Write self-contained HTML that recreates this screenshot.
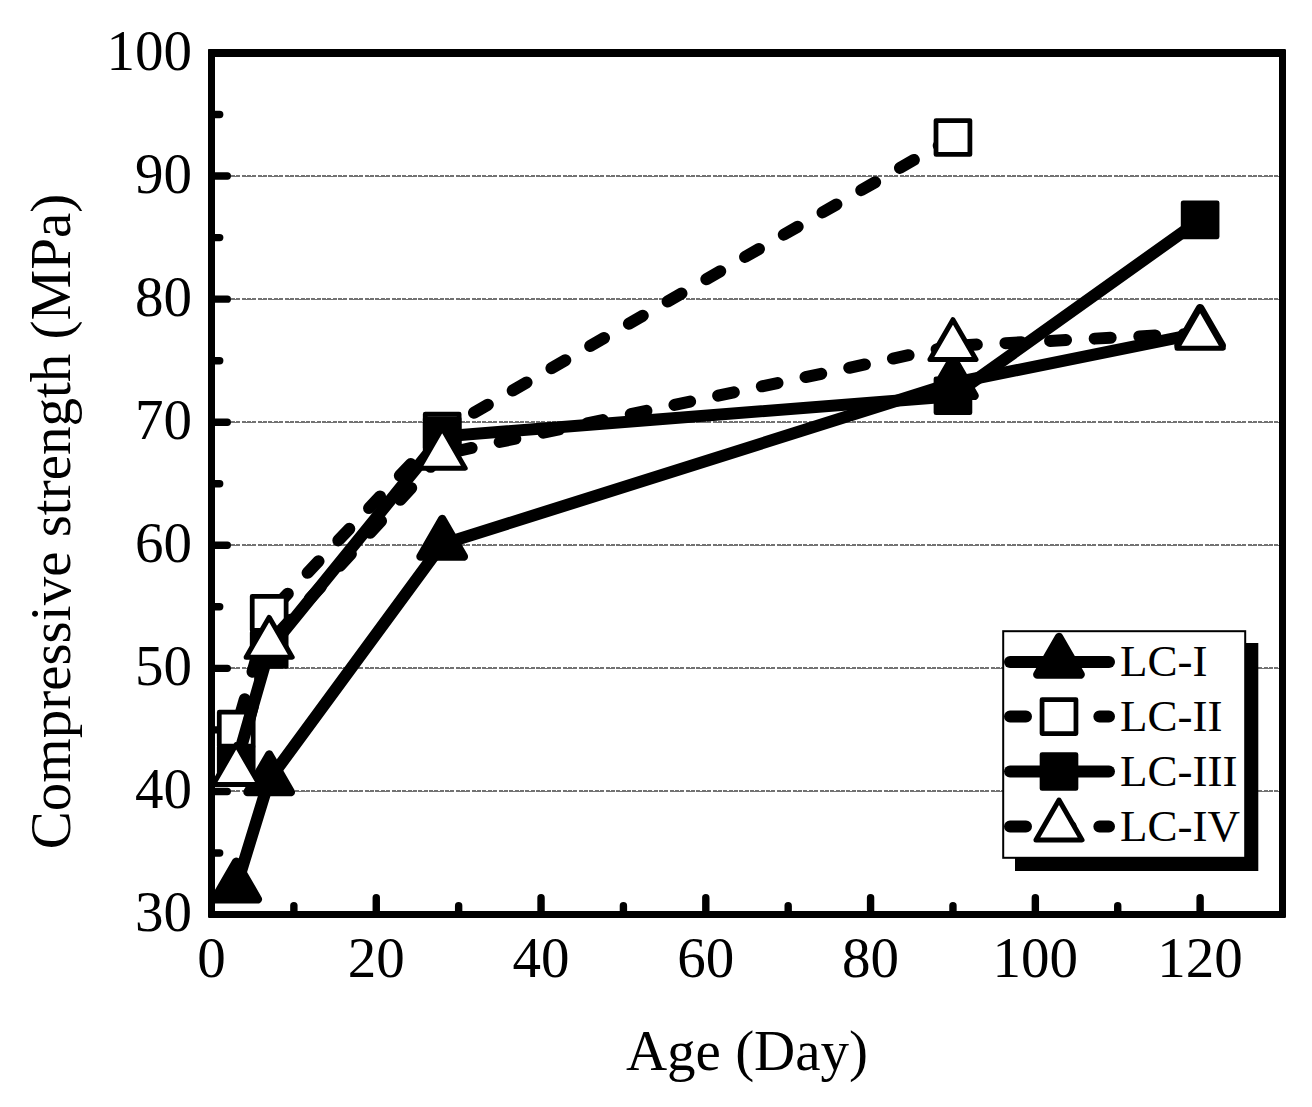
<!DOCTYPE html>
<html><head><meta charset="utf-8"><title>Compressive strength vs age</title>
<style>
html,body{margin:0;padding:0;background:#fff;}
body{width:1312px;height:1107px;overflow:hidden;}
svg{display:block;}
svg text{font-family:"Liberation Serif",serif;fill:#000;}
</style></head><body>
<svg width="1312" height="1107" viewBox="0 0 1312 1107">
<rect width="1312" height="1107" fill="#fff"/>
<g shape-rendering="crispEdges" stroke="#727272" stroke-width="1" fill="none">
<line x1="231" y1="790.5" x2="1279" y2="790.5" stroke-dasharray="4 1.35"/>
<line x1="231" y1="791.5" x2="1279" y2="791.5" stroke-dasharray="9.35 1.35 14.7 1.35"/>
<line x1="231" y1="667.5" x2="1279" y2="667.5" stroke-dasharray="4 1.35"/>
<line x1="231" y1="668.5" x2="1279" y2="668.5" stroke-dasharray="9.35 1.35 14.7 1.35"/>
<line x1="231" y1="544.5" x2="1279" y2="544.5" stroke-dasharray="4 1.35"/>
<line x1="231" y1="545.5" x2="1279" y2="545.5" stroke-dasharray="9.35 1.35 14.7 1.35"/>
<line x1="231" y1="421.5" x2="1279" y2="421.5" stroke-dasharray="4 1.35"/>
<line x1="231" y1="422.5" x2="1279" y2="422.5" stroke-dasharray="9.35 1.35 14.7 1.35"/>
<line x1="231" y1="298.5" x2="1279" y2="298.5" stroke-dasharray="4 1.35"/>
<line x1="231" y1="299.5" x2="1279" y2="299.5" stroke-dasharray="9.35 1.35 14.7 1.35"/>
<line x1="231" y1="175.5" x2="1279" y2="175.5" stroke-dasharray="4 1.35"/>
<line x1="231" y1="176.5" x2="1279" y2="176.5" stroke-dasharray="9.35 1.35 14.7 1.35"/>
</g>
<path d="M212,849.26 H219.70 A3.7 3.7 0 0 1 219.70,856.66 H212 Z" fill="#000"/>
<path d="M212,787.73 H227.30 A3.7 3.7 0 0 1 227.30,795.13 H212 Z" fill="#000"/>
<path d="M212,726.19 H219.70 A3.7 3.7 0 0 1 219.70,733.59 H212 Z" fill="#000"/>
<path d="M212,664.66 H227.30 A3.7 3.7 0 0 1 227.30,672.06 H212 Z" fill="#000"/>
<path d="M212,603.12 H219.70 A3.7 3.7 0 0 1 219.70,610.52 H212 Z" fill="#000"/>
<path d="M212,541.59 H227.30 A3.7 3.7 0 0 1 227.30,548.99 H212 Z" fill="#000"/>
<path d="M212,480.05 H219.70 A3.7 3.7 0 0 1 219.70,487.45 H212 Z" fill="#000"/>
<path d="M212,418.51 H227.30 A3.7 3.7 0 0 1 227.30,425.91 H212 Z" fill="#000"/>
<path d="M212,356.98 H219.70 A3.7 3.7 0 0 1 219.70,364.38 H212 Z" fill="#000"/>
<path d="M212,295.44 H227.30 A3.7 3.7 0 0 1 227.30,302.84 H212 Z" fill="#000"/>
<path d="M212,233.91 H219.70 A3.7 3.7 0 0 1 219.70,241.31 H212 Z" fill="#000"/>
<path d="M212,172.37 H227.30 A3.7 3.7 0 0 1 227.30,179.77 H212 Z" fill="#000"/>
<path d="M212,110.84 H219.70 A3.7 3.7 0 0 1 219.70,118.24 H212 Z" fill="#000"/>
<path d="M290.18,914 V905.70 A3.7 3.7 0 0 1 297.58,905.70 V914 Z" fill="#000"/>
<path d="M372.57,914 V897.70 A3.7 3.7 0 0 1 379.97,897.70 V914 Z" fill="#000"/>
<path d="M454.95,914 V905.70 A3.7 3.7 0 0 1 462.35,905.70 V914 Z" fill="#000"/>
<path d="M537.34,914 V897.70 A3.7 3.7 0 0 1 544.74,897.70 V914 Z" fill="#000"/>
<path d="M619.72,914 V905.70 A3.7 3.7 0 0 1 627.12,905.70 V914 Z" fill="#000"/>
<path d="M702.11,914 V897.70 A3.7 3.7 0 0 1 709.51,897.70 V914 Z" fill="#000"/>
<path d="M784.49,914 V905.70 A3.7 3.7 0 0 1 791.89,905.70 V914 Z" fill="#000"/>
<path d="M866.88,914 V897.70 A3.7 3.7 0 0 1 874.28,897.70 V914 Z" fill="#000"/>
<path d="M949.26,914 V905.70 A3.7 3.7 0 0 1 956.66,905.70 V914 Z" fill="#000"/>
<path d="M1031.65,914 V897.70 A3.7 3.7 0 0 1 1039.05,897.70 V914 Z" fill="#000"/>
<path d="M1114.03,914 V905.70 A3.7 3.7 0 0 1 1121.43,905.70 V914 Z" fill="#000"/>
<path d="M1196.42,914 V897.70 A3.7 3.7 0 0 1 1203.82,897.70 V914 Z" fill="#000"/>
<path d="M208.6,49 H1285.2 L1286,49.8 V917.2 L1285.2,918 H208.8 L208,917.2 V49.6 Z M215,57 V911 H1279 V57 Z" fill="#000" fill-rule="evenodd"/>
<clipPath id="pc"><rect x="208" y="49" width="1078" height="869"/></clipPath>
<g clip-path="url(#pc)">
<polyline points="236.22,887.00 269.17,779.80 442.18,544.30 952.96,383.00 1200.12,333.20" fill="none" stroke="#000" stroke-width="12.0" stroke-linejoin="round" stroke-linecap="round"/>
<path d="M236.22,861.75 L257.87,899.25 L214.56,899.25 Z" fill="#000" stroke="#000" stroke-width="8.5" stroke-linejoin="round"/>
<path d="M269.17,754.55 L290.82,792.05 L247.52,792.05 Z" fill="#000" stroke="#000" stroke-width="8.5" stroke-linejoin="round"/>
<path d="M442.18,519.05 L463.83,556.55 L420.53,556.55 Z" fill="#000" stroke="#000" stroke-width="8.5" stroke-linejoin="round"/>
<path d="M952.96,358.25 L974.61,395.75 L931.31,395.75 Z" fill="#000" stroke="#000" stroke-width="8.5" stroke-linejoin="round"/>
<path d="M1200.12,308.20 L1221.77,345.70 L1178.46,345.70 Z" fill="#000" stroke="#000" stroke-width="8.5" stroke-linejoin="round"/>
<line x1="236.22" y1="729.10" x2="269.17" y2="613.30" stroke="#000" stroke-width="12.0" stroke-linecap="round" stroke-dasharray="16.0 28.67" stroke-dashoffset="-15.00"/>
<line x1="269.17" y1="613.30" x2="442.18" y2="431.00" stroke="#000" stroke-width="12.0" stroke-linecap="round" stroke-dasharray="16.0 28.67" stroke-dashoffset="-11.10"/>
<line x1="442.18" y1="431.00" x2="952.96" y2="137.45" stroke="#000" stroke-width="12.0" stroke-linecap="round" stroke-dasharray="16.0 28.67" stroke-dashoffset="8.00"/>
<rect x="219.27" y="712.15" width="33.9" height="33.9" fill="#fff" stroke="#000" stroke-width="4.75" stroke-linejoin="round"/>
<rect x="252.22" y="596.35" width="33.9" height="33.9" fill="#fff" stroke="#000" stroke-width="4.75" stroke-linejoin="round"/>
<rect x="425.23" y="414.05" width="33.9" height="33.9" fill="#fff" stroke="#000" stroke-width="4.75" stroke-linejoin="round"/>
<rect x="936.01" y="120.50" width="33.9" height="33.9" fill="#fff" stroke="#000" stroke-width="4.75" stroke-linejoin="round"/>
<polyline points="236.22,764.00 269.17,649.50 442.18,436.40 952.96,396.20 1200.12,219.80" fill="none" stroke="#000" stroke-width="12.0" stroke-linejoin="round" stroke-linecap="round"/>
<rect x="219.27" y="747.05" width="33.9" height="33.9" fill="#000" stroke="#000" stroke-width="4.75" stroke-linejoin="round"/>
<rect x="252.22" y="632.55" width="33.9" height="33.9" fill="#000" stroke="#000" stroke-width="4.75" stroke-linejoin="round"/>
<rect x="425.23" y="418.65" width="33.9" height="33.9" fill="#000" stroke="#000" stroke-width="4.75" stroke-linejoin="round"/>
<rect x="936.01" y="378.75" width="33.9" height="33.9" fill="#000" stroke="#000" stroke-width="4.75" stroke-linejoin="round"/>
<rect x="1183.17" y="202.85" width="33.9" height="33.9" fill="#000" stroke="#000" stroke-width="4.75" stroke-linejoin="round"/>
<line x1="236.22" y1="770.50" x2="269.17" y2="643.20" stroke="#000" stroke-width="12.0" stroke-linecap="round" stroke-dasharray="16.0 28.67" stroke-dashoffset="-6.20"/>
<line x1="269.17" y1="643.20" x2="442.18" y2="454.20" stroke="#000" stroke-width="12.0" stroke-linecap="round" stroke-dasharray="16.0 28.67" stroke-dashoffset="-15.70"/>
<line x1="442.18" y1="454.20" x2="952.96" y2="345.80" stroke="#000" stroke-width="12.0" stroke-linecap="round" stroke-dasharray="16.0 28.67" stroke-dashoffset="-14.10"/>
<line x1="952.96" y1="345.80" x2="1200.12" y2="333.30" stroke="#000" stroke-width="12.0" stroke-linecap="round" stroke-dasharray="16.0 28.67" stroke-dashoffset="-7.90"/>
<path d="M236.22,744.60 L259.25,784.50 L213.18,784.50 Z" fill="#fff" stroke="#000" stroke-width="5.0" stroke-linejoin="round"/>
<path d="M269.17,617.30 L292.21,657.20 L246.13,657.20 Z" fill="#fff" stroke="#000" stroke-width="5.0" stroke-linejoin="round"/>
<path d="M442.18,428.30 L465.21,468.20 L419.14,468.20 Z" fill="#fff" stroke="#000" stroke-width="5.0" stroke-linejoin="round"/>
<path d="M952.96,319.70 L976.00,359.60 L929.93,359.60 Z" fill="#fff" stroke="#000" stroke-width="5.0" stroke-linejoin="round"/>
<path d="M1200.12,308.30 L1223.15,348.20 L1177.08,348.20 Z" fill="#fff" stroke="#000" stroke-width="5.0" stroke-linejoin="round"/>
</g>
<text x="192" y="931.00" font-size="57" text-anchor="end">30</text>
<text x="192" y="807.93" font-size="57" text-anchor="end">40</text>
<text x="192" y="684.86" font-size="57" text-anchor="end">50</text>
<text x="192" y="561.79" font-size="57" text-anchor="end">60</text>
<text x="192" y="438.71" font-size="57" text-anchor="end">70</text>
<text x="192" y="315.64" font-size="57" text-anchor="end">80</text>
<text x="192" y="192.57" font-size="57" text-anchor="end">90</text>
<text x="192" y="69.50" font-size="57" text-anchor="end">100</text>
<text x="211.50" y="976.5" font-size="57" text-anchor="middle">0</text>
<text x="376.27" y="976.5" font-size="57" text-anchor="middle">20</text>
<text x="541.04" y="976.5" font-size="57" text-anchor="middle">40</text>
<text x="705.81" y="976.5" font-size="57" text-anchor="middle">60</text>
<text x="870.58" y="976.5" font-size="57" text-anchor="middle">80</text>
<text x="1035.35" y="976.5" font-size="57" text-anchor="middle">100</text>
<text x="1200.12" y="976.5" font-size="57" text-anchor="middle">120</text>
<text x="747" y="1070.4" font-size="57" text-anchor="middle">Age (Day)</text>
<text transform="translate(70,521.5) rotate(-90)" font-size="57" text-anchor="middle">Compressive strength (MPa)</text>
<rect x="1015" y="643" width="243.3" height="228" fill="#000"/>
<rect x="1003.2" y="631.2" width="242" height="226.6" fill="#fff" stroke="#000" stroke-width="2"/>
<line x1="1010.0" y1="662.0" x2="1109.0" y2="662.0" stroke="#000" stroke-width="12.0" stroke-linecap="round"/>
<path d="M1059.00,637.00 L1080.65,674.50 L1037.35,674.50 Z" fill="#000" stroke="#000" stroke-width="8.5" stroke-linejoin="round"/>
<text x="1120" y="676.40" font-size="45">LC-I</text>
<line x1="1010.0" y1="716.6" x2="1109.0" y2="716.6" stroke="#000" stroke-width="12.0" stroke-linecap="round" stroke-dasharray="16.0 28.67" stroke-dashoffset="0"/>
<rect x="1042.05" y="699.65" width="33.9" height="33.9" fill="#fff" stroke="#000" stroke-width="4.75" stroke-linejoin="round"/>
<text x="1120" y="731.00" font-size="45">LC-II</text>
<line x1="1010.0" y1="771.5" x2="1109.0" y2="771.5" stroke="#000" stroke-width="12.0" stroke-linecap="round"/>
<rect x="1042.05" y="754.55" width="33.9" height="33.9" fill="#000" stroke="#000" stroke-width="4.75" stroke-linejoin="round"/>
<text x="1120" y="785.90" font-size="45">LC-III</text>
<line x1="1010.0" y1="826.6" x2="1109.0" y2="826.6" stroke="#000" stroke-width="12.0" stroke-linecap="round" stroke-dasharray="16.0 28.67" stroke-dashoffset="0"/>
<path d="M1059.00,800.00 L1082.04,839.90 L1035.96,839.90 Z" fill="#fff" stroke="#000" stroke-width="5.0" stroke-linejoin="round"/>
<text x="1120" y="841.00" font-size="45">LC-IV</text>
</svg>
</body></html>
